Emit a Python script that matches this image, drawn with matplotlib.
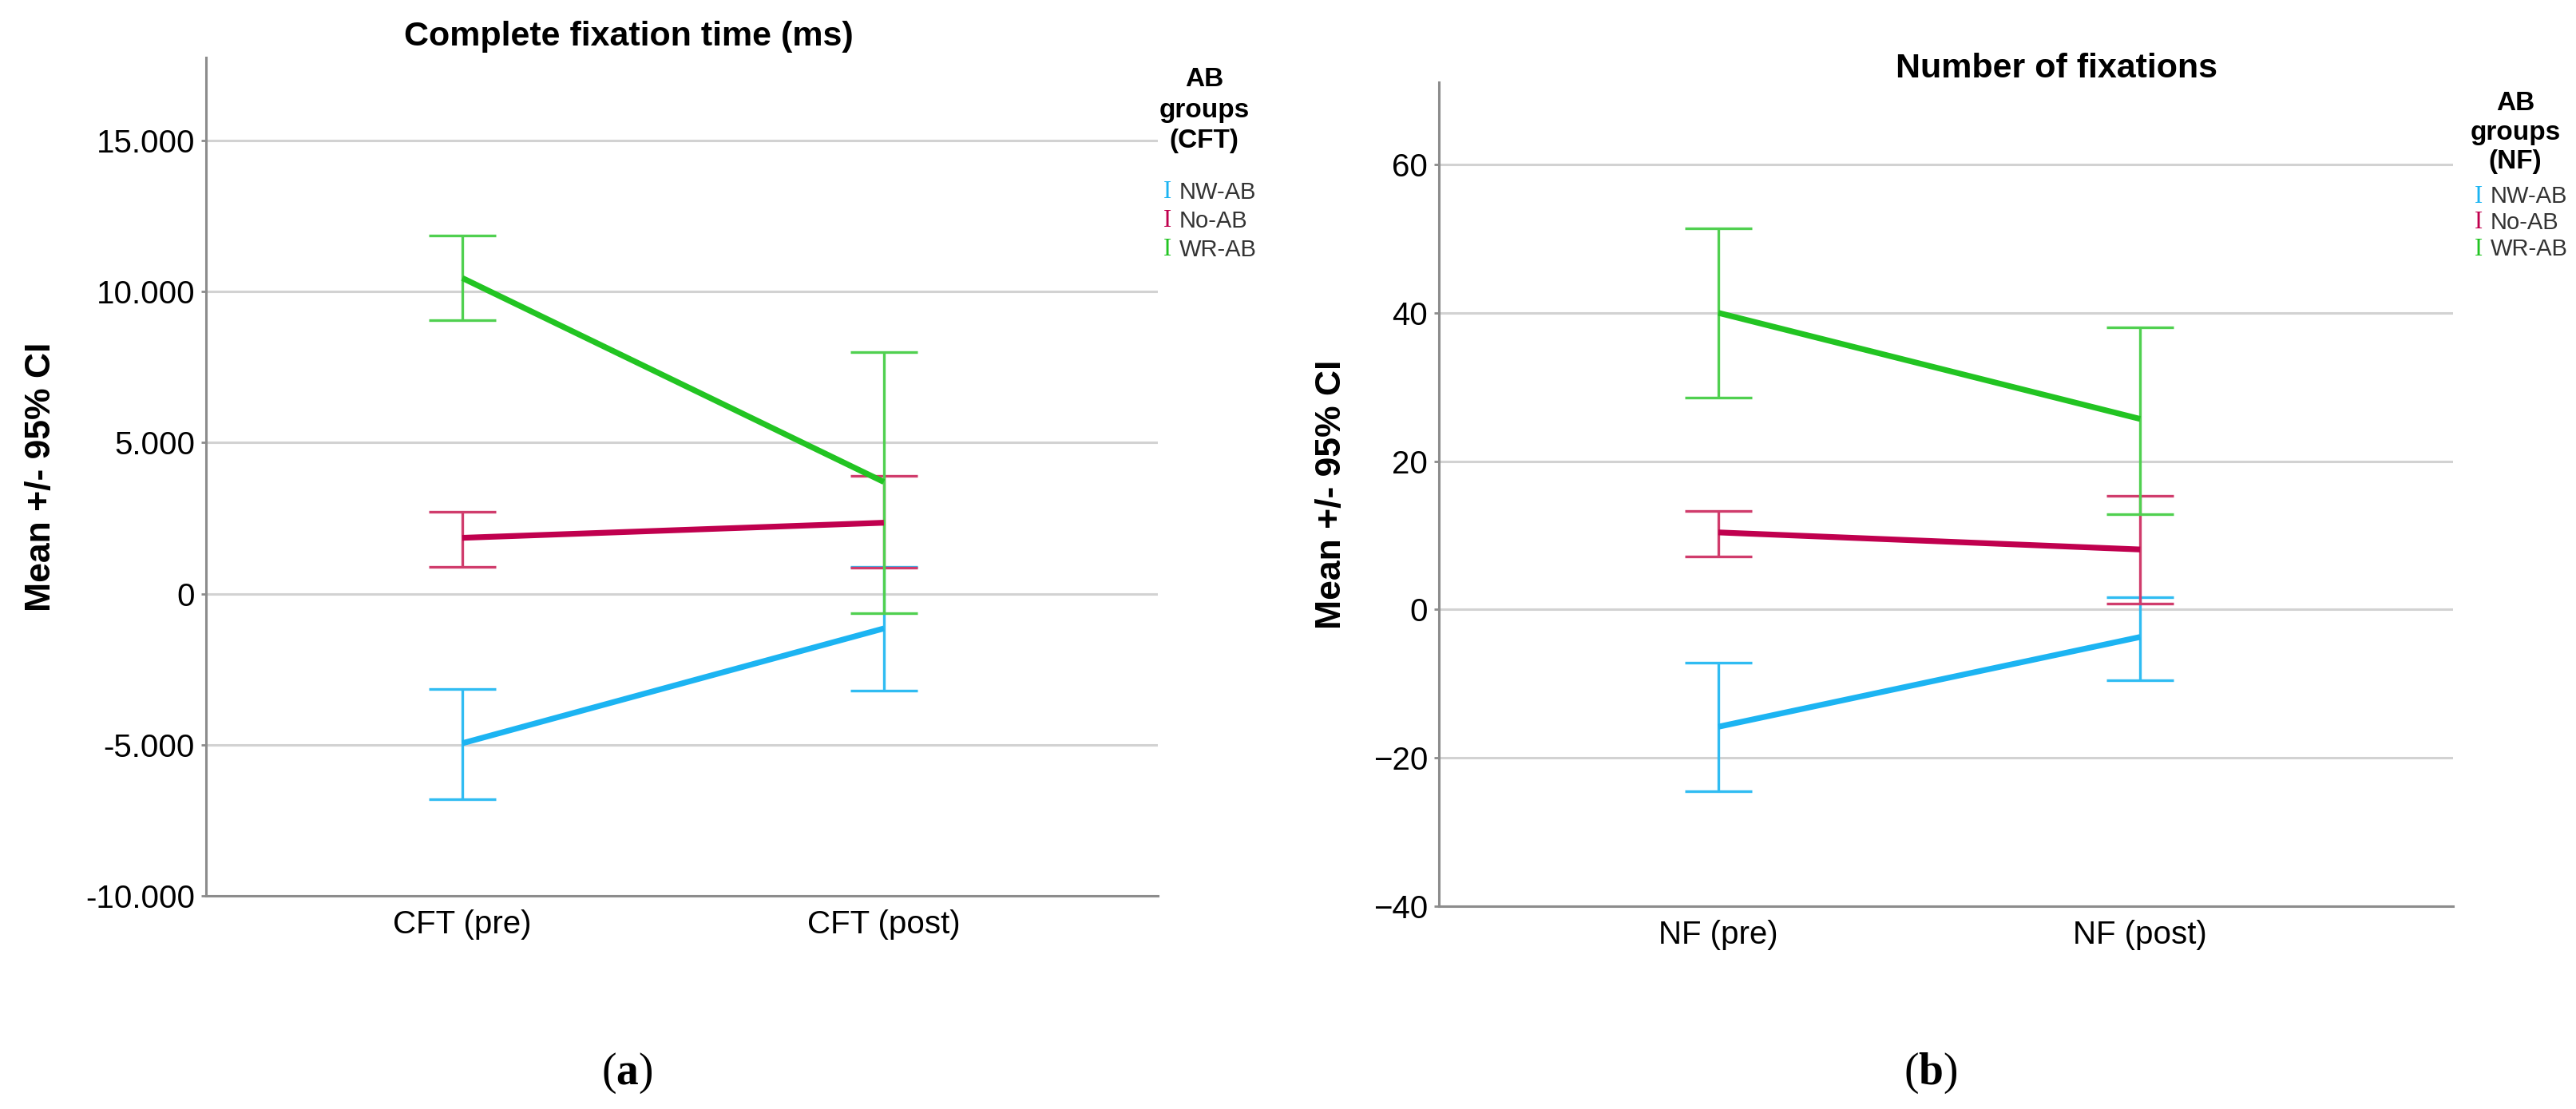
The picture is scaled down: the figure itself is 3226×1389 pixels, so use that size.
import matplotlib
matplotlib.use('Agg')
from matplotlib import pyplot as plt

plt.rcParams['font.family'] = ['Liberation Sans', 'DejaVu Sans']
plt.rcParams['mathtext.fontset'] = 'custom'
plt.rcParams['mathtext.bf'] = 'Liberation Serif:bold'

groups = ['NW-AB', 'No-AB', 'WR-AB']
colors = ['#1CB4F2', '#C0004E', '#22C422']
bar_colors = ['#30BCF2', '#D03C6C', '#50D050']

# panel (a): complete fixation time (ms)
cft_cats = ['CFT (pre)', 'CFT (post)']
cft_mean = [[-4950, -1150], [1850, 2350], [10450, 3700]]
cft_low = [[-6800, -3200], [900, 850], [9050, -650]]
cft_high = [[-3150, 900], [2700, 3900], [11850, 8000]]
cft_ticks = [-10000, -5000, 0, 5000, 10000, 15000]
cft_ticklabels = ['-10.000', '-5.000', '0', '5.000', '10.000', '15.000']

# panel (b): number of fixations
nf_cats = ['NF (pre)', 'NF (post)']
nf_mean = [[-15.8, -3.7], [10.4, 8.1], [40.0, 25.7]]
nf_low = [[-24.5, -9.5], [7.2, 0.8], [28.6, 12.9]]
nf_high = [[-7.2, 1.7], [13.3, 15.3], [51.4, 38.0]]
nf_ticks = [-40, -20, 0, 20, 40, 60]
nf_ticklabels = ['\u221240', '\u221220', '0', '20', '40', '60']

W, H = 3226, 1389
fig = plt.figure(figsize=(W / 100, H / 100), dpi=100)


def px(x, y):
    return x / W, 1 - y / H


def panel(rect, cats, mean, low, high, ticks, ticklabels, ylim, xlim, labx):
    ax = fig.add_axes(rect)
    x = list(range(len(cats)))
    for i in range(len(groups)):
        err = [[m - l for m, l in zip(mean[i], low[i])],
               [h - m for m, h in zip(mean[i], high[i])]]
        ax.errorbar(x, mean[i], yerr=err, fmt='none', ecolor=bar_colors[i],
                    elinewidth=2.4, capsize=30, capthick=2.4, zorder=3)
        ax.plot(x, mean[i], color=colors[i], lw=5.2, zorder=4,
                solid_capstyle='butt')
    ax.set_xticks(x)
    ax.set_xticklabels(cats, fontsize=29)
    ax.set_yticks(ticks)
    ax.set_yticklabels(ticklabels, fontsize=29)
    ax.set_ylim(ylim)
    ax.set_xlim(xlim)
    ax.grid(axis='y', color='#D2D2D2', lw=2.2)
    ax.set_axisbelow(True)
    for s in ['top', 'right']:
        ax.spines[s].set_visible(False)
    for s in ['left', 'bottom']:
        ax.spines[s].set_color('#8C8C8C')
        ax.spines[s].set_linewidth(2.2)
    ax.tick_params(axis='y', length=4, width=2, color='#8C8C8C', pad=6)
    ax.tick_params(axis='x', length=0, pad=12)
    ax.set_ylabel('Mean +/- 95% CI', fontsize=32, fontweight='bold')
    ax.yaxis.set_label_coords(labx, 0.5)
    return ax


l, b = px(258, 1122)
r, t = px(1450, 72)
ax1 = panel([l, b, r - l, t - b], cft_cats, cft_mean, cft_low, cft_high,
            cft_ticks, cft_ticklabels, (-10000, 17750), (-0.608, 1.65), -0.156)
l, b = px(1802, 1135)
r, t = px(3072, 103)
ax2 = panel([l, b, r - l, t - b], nf_cats, nf_mean, nf_low, nf_high,
            nf_ticks, nf_ticklabels, (-40, 71.1), (-0.663, 1.742), -0.090)

# titles
fig.text(*px(787, 46), 'Complete fixation time (ms)', fontsize=31,
         fontweight='bold', ha='center', va='center')
fig.text(*px(2575, 86), 'Number of fixations', fontsize=31,
         fontweight='bold', ha='center', va='center')


# legends
def legend(x, y0, tag, step, y1, step2):
    for j, line in enumerate(['AB', 'groups', tag]):
        fig.text(*px(x, y0 + j * step), line, fontsize=24, fontweight='bold',
                 ha='center', va='center')
    for i, g in enumerate(groups):
        yy = y1 + i * step2
        fig.text(*px(x - 46, yy), 'I', family='Liberation Serif', fontsize=22,
                 color=colors[i], ha='center', va='center')
        fig.text(*px(x - 31, yy), g, fontsize=21, color='#333333',
                 ha='left', va='center')


legend(1508, 100, '(CFT)', 38, 241, 36)
legend(3150, 130, '(NF)', 36, 246, 33)

fig.text(*px(785, 1344), r'($\mathbf{a}$)', family='Liberation Serif',
         fontsize=40, ha='center', va='center')
fig.text(*px(2418, 1344), r'($\mathbf{b}$)', family='Liberation Serif',
         fontsize=40, ha='center', va='center')

fig.savefig('out.png', dpi=100)
